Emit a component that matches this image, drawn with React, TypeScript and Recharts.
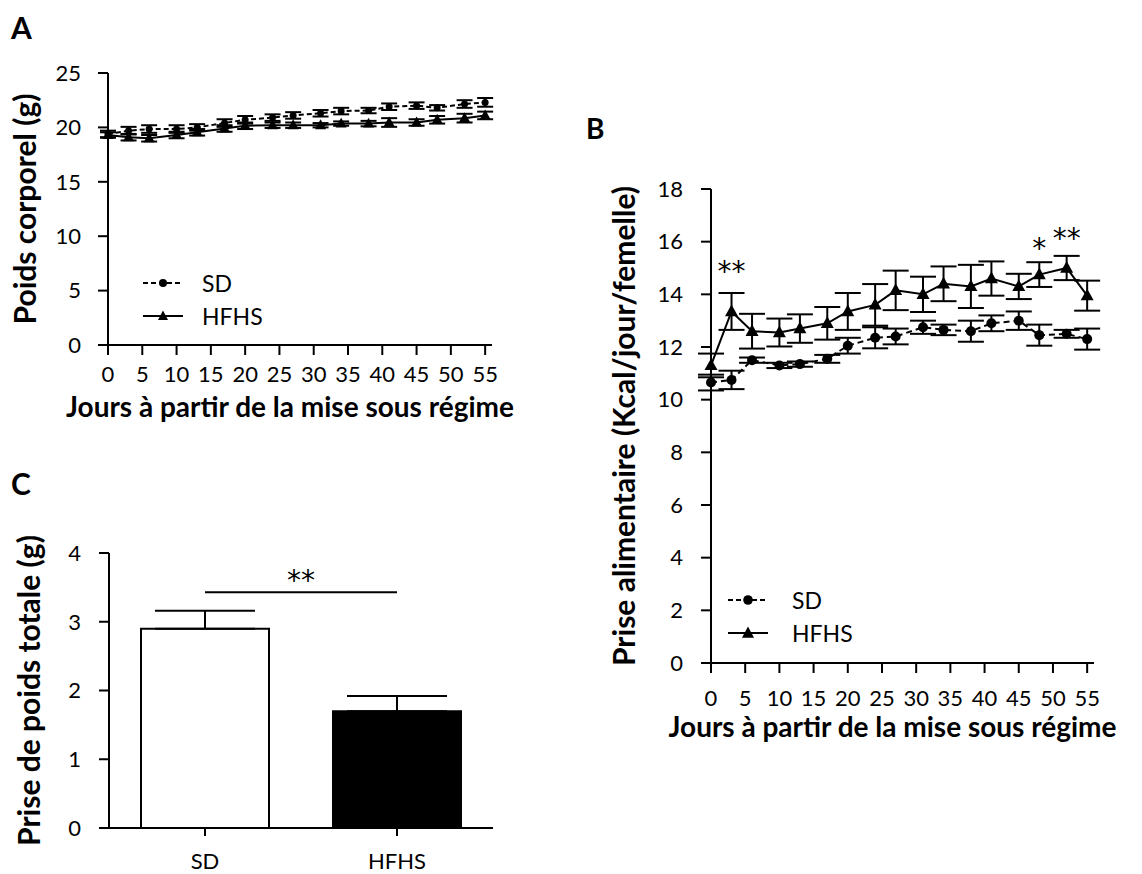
import React from 'react';
import {
  Bar,
  BarChart,
  Cell,
  ComposedChart,
  ErrorBar,
  Legend,
  Line,
  ReferenceDot,
  ReferenceLine,
  XAxis,
  YAxis,
} from 'recharts';

const FONT = "Lato, 'Open Sans', sans-serif";
const STAR_FONT = "'DejaVu Sans', sans-serif";

// days of measurement (shared by A and B)
const days = [0, 3, 6, 10, 13, 17, 20, 24, 27, 31, 34, 38, 41, 45, 48, 52, 55];
const dayTicks = [0, 5, 10, 15, 20, 25, 30, 35, 40, 45, 50, 55];

// A - body weight (g)
const weightSD = [19.4, 19.7, 19.85, 19.85, 20.0, 20.4, 20.7, 20.9, 21.1, 21.3, 21.5, 21.55, 21.9, 22.0, 21.8, 22.15, 22.3];
const weightSDErr = [0.3, 0.35, 0.35, 0.35, 0.3, 0.35, 0.35, 0.3, 0.3, 0.3, 0.3, 0.25, 0.3, 0.3, 0.25, 0.35, 0.4];
const weightHFHS = [19.3, 19.1, 19.0, 19.3, 19.55, 19.9, 20.15, 20.2, 20.2, 20.2, 20.35, 20.35, 20.45, 20.45, 20.7, 20.85, 21.1];
const weightHFHSErr = [0.25, 0.3, 0.3, 0.3, 0.3, 0.3, 0.3, 0.25, 0.25, 0.2, 0.2, 0.25, 0.4, 0.3, 0.35, 0.4, 0.35];
const weightTicks = [0, 5, 10, 15, 20, 25];

// B - food intake (Kcal/day/female)
const intakeSD = [10.65, 10.75, 11.5, 11.3, 11.35, 11.55, 12.05, 12.35, 12.4, 12.75, 12.65, 12.6, 12.9, 13.0, 12.45, 12.5, 12.3];
const intakeSDErr = [0.3, 0.35, 0.1, 0.1, 0.1, 0.15, 0.3, 0.4, 0.3, 0.25, 0.2, 0.4, 0.3, 0.35, 0.4, 0.15, 0.4];
const intakeHFHS = [11.3, 13.35, 12.6, 12.55, 12.7, 12.9, 13.35, 13.6, 14.15, 14.0, 14.4, 14.3, 14.6, 14.3, 14.75, 15.0, 13.95];
const intakeHFHSErr = [0.45, 0.7, 0.66, 0.53, 0.54, 0.62, 0.7, 0.79, 0.75, 0.67, 0.66, 0.82, 0.65, 0.48, 0.47, 0.46, 0.57];
const intakeTicks = [0, 2, 4, 6, 8, 10, 12, 14, 16, 18];
const intakeSig = [
  { day: 3, y: 14.9, mark: '**' },
  { day: 48, y: 15.75, mark: '*' },
  { day: 52, y: 16.15, mark: '**' },
];

// C - total weight gain (g)
const groups = ['SD', 'HFHS'];
const gainMean = [2.9, 1.7];
const gainErr = [0.26, 0.22];
const gainTicks = [0, 1, 2, 3, 4];
const gainSigY = 3.43;

const weightData = days.map((d, i) => ({
  day: d,
  sd: weightSD[i],
  sdErr: weightSDErr[i],
  hfhs: weightHFHS[i],
  hfhsErr: weightHFHSErr[i],
}));

const intakeData = days.map((d, i) => ({
  day: d,
  sd: intakeSD[i],
  sdErr: intakeSDErr[i],
  hfhs: intakeHFHS[i],
  hfhsErr: intakeHFHSErr[i],
}));

const gainData = groups.map((g, i) => ({ group: g, mean: gainMean[i], err: [0, gainErr[i]] }));

const axisStroke = { stroke: '#000', strokeWidth: 2 };
const tickStyle = { fill: '#000', fontSize: 22, fontFamily: FONT };
const yTitle = { fill: '#000', fontSize: 30, fontWeight: 700, fontFamily: FONT, textAnchor: 'middle' as const };
const xTitle = { fill: '#000', fontSize: 28, fontWeight: 700, fontFamily: FONT, textAnchor: 'middle' as const };
const starLabel = { fill: '#000', fontSize: 28, fontFamily: STAR_FONT };

const circleDot = (r: number) => (props: any) => {
  const { cx, cy, index } = props;
  if (cx == null || cy == null) return <g key={index} />;
  return <circle key={index} cx={cx} cy={cy} r={r} fill="#000" />;
};

const triangleDot = (s: number) => (props: any) => {
  const { cx, cy, index } = props;
  if (cx == null || cy == null) return <g key={index} />;
  const h = s * 0.9;
  return (
    <polygon
      key={index}
      points={`${cx},${cy - h * 0.6} ${cx - s / 2},${cy + h * 0.4} ${cx + s / 2},${cy + h * 0.4}`}
      fill="#000"
    />
  );
};

function LegendRows({ payload, gap, marker }: any) {
  // SD first, as in the figure
  const rows = [...(payload || [])].sort((a: any, b: any) => (a.dataKey === 'sd' ? -1 : b.dataKey === 'sd' ? 1 : 0));
  return (
    <div style={{ fontFamily: FONT, fontSize: 23, color: '#000' }}>
      {rows.map((p: any) => {
        const dashed = p.dataKey === 'sd';
        return (
          <div key={p.value} style={{ display: 'flex', alignItems: 'center', height: 33 }}>
            <svg width={40} height={14}>
              <line x1={0} y1={7} x2={40} y2={7} stroke="#000" strokeWidth={2} strokeDasharray={dashed ? '5 3' : undefined} />
              {dashed ? (
                <circle cx={20} cy={7} r={marker * 0.4} fill="#000" />
              ) : (
                <polygon points={`20,${7 - marker * 0.55} ${20 - marker / 2},${7 + marker * 0.4} ${20 + marker / 2},${7 + marker * 0.4}`} fill="#000" />
              )}
            </svg>
            <span style={{ marginLeft: gap }}>{p.value}</span>
          </div>
        );
      })}
    </div>
  );
}

const panelLetter = (text: string, left: number, top: number, size: number) => (
  <div style={{ position: 'absolute', left, top, fontFamily: FONT, fontWeight: 700, fontSize: size, lineHeight: 1 }}>{text}</div>
);

export default function App() {
  return (
    <div style={{ position: 'absolute', left: 0, top: 0, width: 1142, height: 874, background: '#fff' }}>
      {panelLetter('A', 11, 12, 30)}
      {panelLetter('B', 586, 114, 28)}
      {panelLetter('C', 11, 468, 30)}

      {/* Panel A */}
      <div style={{ position: 'absolute', left: 0, top: 0 }}>
        <ComposedChart width={560} height={430} data={weightData} margin={{ top: 73, right: 68, bottom: 5, left: 0 }}>
          <XAxis
            dataKey="day"
            type="number"
            domain={[0, 56]}
            ticks={dayTicks}
            interval={0}
            height={80}
            tickSize={10}
            tickMargin={11}
            tick={tickStyle}
            axisLine={axisStroke}
            tickLine={axisStroke}
            label={{ value: 'Jours à partir de la mise sous régime', position: 'insideBottom', offset: 8, dx: -10, style: xTitle }}
          />
          <YAxis
            domain={[0, 25]}
            ticks={weightTicks}
            width={108}
            tickSize={10}
            tickMargin={17}
            tick={tickStyle}
            axisLine={axisStroke}
            tickLine={axisStroke}
            label={{ value: 'Poids corporel (g)', angle: -90, position: 'insideLeft', offset: 25, style: yTitle }}
          />
          <Legend
            layout="vertical"
            align="center"
            verticalAlign="middle"
            wrapperStyle={{ left: 143, top: 266, width: 'auto' }}
            content={(props: any) => <LegendRows {...props} gap={19} marker={10} />}
          />
          <Line
            name="SD"
            dataKey="sd"
            stroke="#000"
            strokeWidth={2}
            strokeDasharray="5 3"
            dot={circleDot(3.5)}
            isAnimationActive={false}
          >
            <ErrorBar dataKey="sdErr" width={8} stroke="#000" strokeWidth={2} />
          </Line>
          <Line
            name="HFHS"
            dataKey="hfhs"
            stroke="#000"
            strokeWidth={2}
            dot={triangleDot(11)}
            isAnimationActive={false}
          >
            <ErrorBar dataKey="hfhsErr" width={8} stroke="#000" strokeWidth={2} />
          </Line>
        </ComposedChart>
      </div>

      {/* Panel B */}
      <div style={{ position: 'absolute', left: 560, top: 100 }}>
        <ComposedChart width={582} height={660} data={intakeData} margin={{ top: 89, right: 48, bottom: 12, left: 0 }}>
          <XAxis
            dataKey="day"
            type="number"
            domain={[0, 56]}
            ticks={dayTicks}
            interval={0}
            height={85}
            tickSize={10}
            tickMargin={17}
            tick={tickStyle}
            axisLine={axisStroke}
            tickLine={axisStroke}
            label={{ value: 'Jours à partir de la mise sous régime', position: 'insideBottom', offset: 11, dx: -10, style: xTitle }}
          />
          <YAxis
            domain={[0, 18]}
            ticks={intakeTicks}
            width={151}
            tickSize={10}
            tickMargin={18}
            tick={tickStyle}
            axisLine={axisStroke}
            tickLine={axisStroke}
            label={{ value: 'Prise alimentaire (Kcal/jour/femelle)', angle: -90, position: 'insideLeft', offset: 64, style: yTitle }}
          />
          <Legend
            layout="vertical"
            align="center"
            verticalAlign="middle"
            wrapperStyle={{ left: 168, top: 483, width: 'auto' }}
            content={(props: any) => <LegendRows {...props} gap={24} marker={12} />}
          />
          <Line
            name="SD"
            dataKey="sd"
            stroke="#000"
            strokeWidth={2}
            strokeDasharray="6 4"
            dot={circleDot(5)}
            isAnimationActive={false}
          >
            <ErrorBar dataKey="sdErr" width={13} stroke="#000" strokeWidth={2} />
          </Line>
          <Line
            name="HFHS"
            dataKey="hfhs"
            stroke="#000"
            strokeWidth={2}
            dot={triangleDot(13)}
            isAnimationActive={false}
          >
            <ErrorBar dataKey="hfhsErr" width={13} stroke="#000" strokeWidth={2} />
          </Line>
          {intakeSig.map((s) => (
            <ReferenceDot
              key={s.day}
              x={s.day}
              y={s.y}
              r={0}
              stroke="none"
              label={{ value: s.mark, position: 'center', ...starLabel }}
            />
          ))}
        </ComposedChart>
      </div>

      {/* Panel C */}
      <div style={{ position: 'absolute', left: 0, top: 440 }}>
        <BarChart width={520} height={434} data={gainData} margin={{ top: 113, right: 27, bottom: 6, left: 0 }}>
          <XAxis
            dataKey="group"
            height={40}
            tickSize={8}
            tickMargin={17}
            tick={tickStyle}
            axisLine={axisStroke}
            tickLine={axisStroke}
          />
          <YAxis
            domain={[0, 4]}
            ticks={gainTicks}
            width={109}
            tickSize={10}
            tickMargin={18}
            tick={tickStyle}
            axisLine={axisStroke}
            tickLine={axisStroke}
            label={{ value: 'Prise de poids totale (g)', angle: -90, position: 'insideLeft', offset: 29, style: yTitle }}
          />
          <Bar dataKey="mean" barSize={128} isAnimationActive={false}>
            {gainData.map((d) => (
              <Cell
                key={d.group}
                fill={d.group === 'SD' ? '#fff' : '#000'}
                stroke="#000"
                strokeWidth={2}
              />
            ))}
            <ErrorBar dataKey="err" width={50} stroke="#000" strokeWidth={2} />
          </Bar>
          <ReferenceLine
            segment={[
              { x: groups[0], y: gainSigY },
              { x: groups[1], y: gainSigY },
            ]}
            stroke="#000"
            strokeWidth={2}
            label={{ value: '**', position: 'top', offset: 2, ...starLabel }}
          />
        </BarChart>
      </div>
    </div>
  );
}
